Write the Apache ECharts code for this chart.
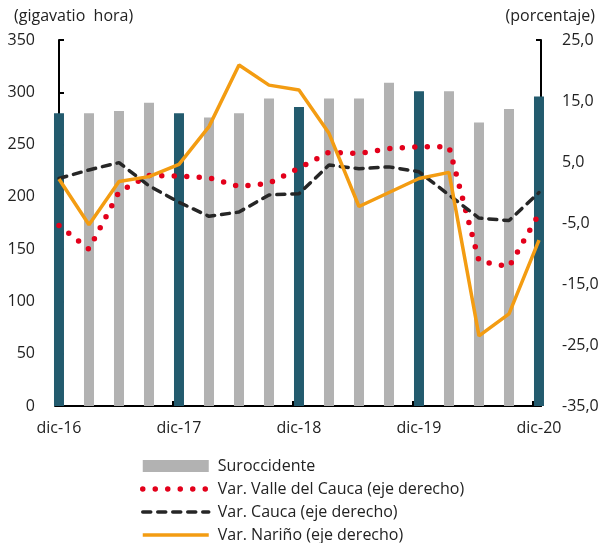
<!DOCTYPE html>
<html><head><meta charset="utf-8">
<script src="https://cdn.jsdelivr.net/npm/echarts@6/dist/echarts.min.js"></script>
<style>html,body{margin:0;padding:0;background:#fff}#c{width:603px;height:543px}</style>
</head><body><div id="c"></div>
<script>
var categories = ['dic-16','mar-17','jun-17','sep-17','dic-17','mar-18','jun-18','sep-18','dic-18','mar-19','jun-19','sep-19','dic-19','mar-20','jun-20','sep-20','dic-20'];
var suroccidente = [280, 280, 282, 290, 280, 276, 280, 294, 286, 294, 294, 309, 301, 301, 271, 284, 296];
var valle = [-5.4, -9.3, 0.1, 2.8, 2.7, 2.4, 1.0, 1.5, 4.0, 6.6, 6.4, 7.2, 7.5, 7.5, -11.2, -12.2, -3.5];
var cauca = [2.3, 3.7, 4.9, 1.1, -1.6, -3.9, -3.2, -0.4, -0.2, 4.5, 3.9, 4.2, 3.4, -0.4, -4.2, -4.6, 0.0];
var narino = [2.2, -5.3, 1.8, 2.6, 4.6, 10.8, 20.9, 17.6, 16.8, 9.7, -2.3, 0.0, 2.3, 3.3, -23.5, -19.9, -7.8];
var xLabelIdx = [0, 4, 8, 12, 16];
var xTickPos = [-0.13, 3.8, 7.8, 11.8, 15.8];

var FONT = '"Open Sans"';
var TXT = '#222';
function pairs(arr){ return arr.map(function(v,i){ return [i, v]; }); }

var chart = echarts.init(document.getElementById('c'));
chart.setOption({
  animation: false,
  textStyle: {fontFamily: FONT},
  grid: {left: 55, right: 62, top: 40, bottom: 137},
  graphic: [
    {type:'text', left: 14, top: 8, style:{text:'(gigavatio  hora)', font:'16px ' + FONT, fill: TXT}},
    {type:'text', right: 8, top: 8, style:{text:'(porcentaje)', font:'16px ' + FONT, fill: TXT}}
  ],
  legend: {
    orient: 'vertical', left: 140, top: 458, padding: 0,
    itemWidth: 66, itemHeight: 12, itemGap: 7,
    textStyle: {fontFamily: FONT, fontSize: 16, color: TXT, lineHeight: 16, padding:[0,0,0,4]},
    data: [
      {name:'Suroccidente', icon:'rect', itemStyle:{color:'#b2b2b2'}},
      {name:'Var. Valle del Cauca (eje derecho)', itemStyle:{opacity:0},
        lineStyle:{color:'#e3001b', width:5.5, type:[0, 12.5], cap:'round'}},
      {name:'Var. Cauca (eje derecho)', itemStyle:{opacity:0},
        lineStyle:{color:'#262626', width:3.5, type:[8, 7], cap:'round'}},
      {name:'Var. Nariño (eje derecho)', itemStyle:{opacity:0},
        lineStyle:{color:'#f39c12', width:3.5}}
    ]
  },
  xAxis: {
    type: 'value', min: -0.133, max: 16.067,
    splitLine: {show:false},
    axisLine: {show:true, onZero:false, lineStyle:{color:'#000', width:2}},
    axisTick: {show:true, inside:true, length:5, customValues: xTickPos, lineStyle:{color:'#000', width:2}},
    axisLabel: {customValues: xLabelIdx, margin: 14, fontSize: 16, color: TXT, fontFamily: FONT,
      formatter: function(v){ return categories[Math.round(v)] || ''; }}
  },
  yAxis: [
    {type:'value', min:0, max:350, interval:50, position:'left',
      splitLine:{show:false},
      axisLine:{show:true, lineStyle:{color:'#000', width:2}},
      axisTick:{show:true, inside:true, length:5, lineStyle:{color:'#000', width:2}},
      axisLabel:{margin:20, fontSize:16, color:TXT, fontFamily:FONT}},
    {type:'value', min:-35, max:25, interval:10, position:'right',
      splitLine:{show:false},
      axisLine:{show:true, lineStyle:{color:'#000', width:2}},
      axisTick:{show:true, inside:true, length:5, lineStyle:{color:'#000', width:2}},
      axisLabel:{margin:21, fontSize:16, color:TXT, fontFamily:FONT,
        formatter:function(v){ return v.toFixed(1).replace('.', ','); }}}
  ],
  series: [
    {name:'Suroccidente', type:'bar', yAxisIndex:0, barWidth:10, clip:false, z:1,
      itemStyle:{color:'#b2b2b2'},
      data: suroccidente.map(function(v,i){
        return {value:[i, v], itemStyle:{color: (i % 4 === 0) ? '#235b6e' : '#b2b2b2'}};
      })},
    {name:'Var. Valle del Cauca (eje derecho)', type:'line', yAxisIndex:1, symbol:'none', z:3,
      lineStyle:{color:'#e3001b', width:5.5, type:[0, 12.5], cap:'round'},
      itemStyle:{color:'#e3001b'},
      data: pairs(valle)},
    {name:'Var. Cauca (eje derecho)', type:'line', yAxisIndex:1, symbol:'none', z:4,
      lineStyle:{color:'#262626', width:3.5, type:[8, 7], cap:'round'},
      itemStyle:{color:'#262626'},
      data: pairs(cauca)},
    {name:'Var. Nariño (eje derecho)', type:'line', yAxisIndex:1, symbol:'none', z:5,
      lineStyle:{color:'#f39c12', width:3.5},
      itemStyle:{color:'#f39c12'},
      data: pairs(narino)}
  ]
});
</script>
</body></html>
